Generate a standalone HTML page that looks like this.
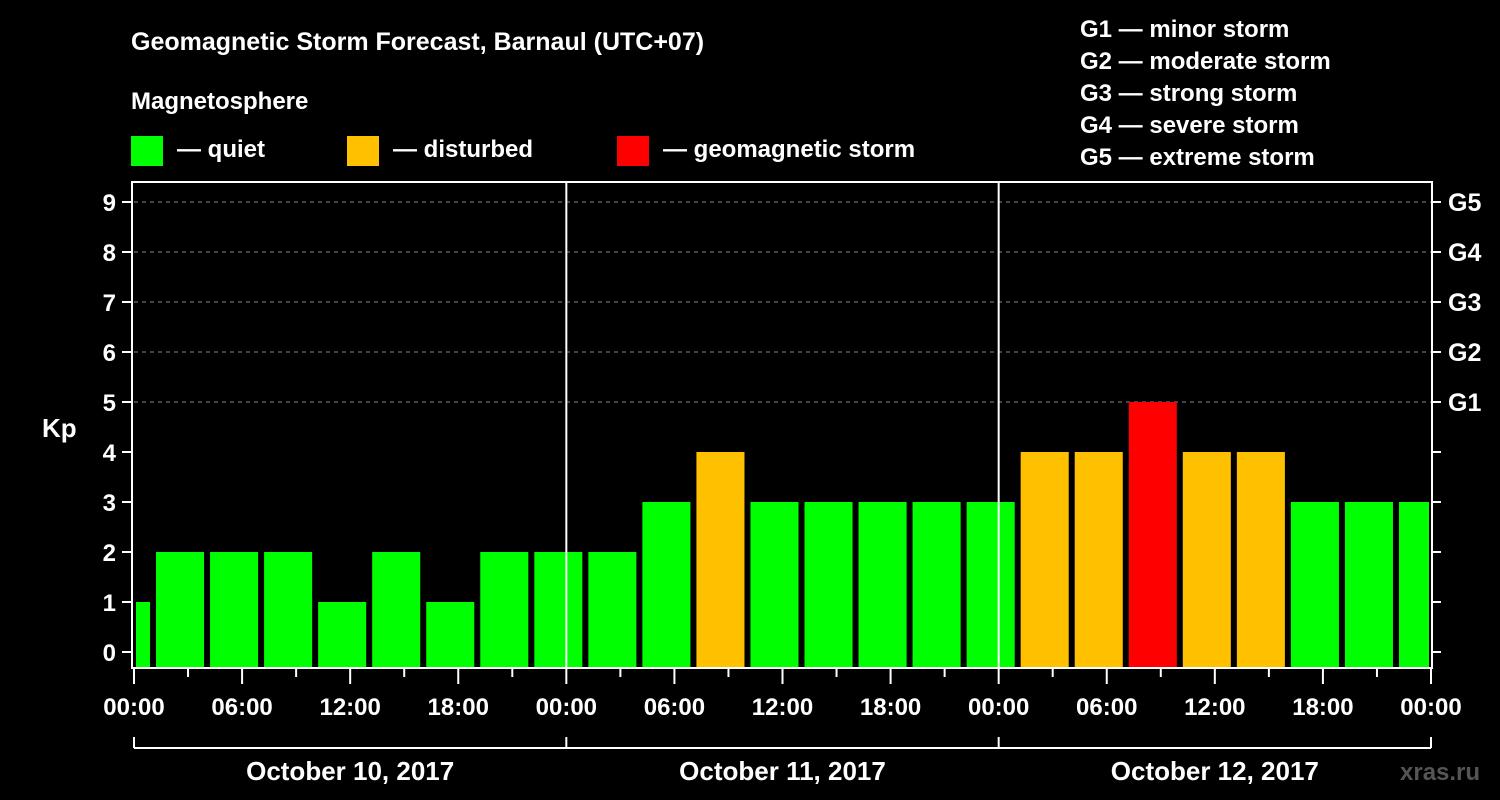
<!DOCTYPE html>
<html><head><meta charset="utf-8"><style>
html,body{margin:0;padding:0;background:#000;}
svg{display:block;font-family:"Liberation Sans",Arial,sans-serif;font-weight:bold;}
</style></head><body>
<svg id="chart" width="1500" height="800" viewBox="0 0 1500 800">
<rect width="1500" height="800" fill="#000"/>
<text x="131" y="50" fill="#fff" font-size="25">Geomagnetic Storm Forecast, Barnaul (UTC+07)</text>
<text x="131" y="109" fill="#fff" font-size="24">Magnetosphere</text>
<g><rect x="131" y="136" width="32" height="30" fill="#00ff00"/><text x="177" y="157" fill="#fff" font-size="24">— quiet</text></g>
<g><rect x="347" y="136" width="32" height="30" fill="#ffc000"/><text x="393" y="157" fill="#fff" font-size="24">— disturbed</text></g>
<g><rect x="617" y="136" width="32" height="30" fill="#ff0000"/><text x="663" y="157" fill="#fff" font-size="24">— geomagnetic storm</text></g>
<g fill="#fff" font-size="24">
<text x="1080" y="37">G1 — minor storm</text>
<text x="1080" y="69">G2 — moderate storm</text>
<text x="1080" y="101">G3 — strong storm</text>
<text x="1080" y="133">G4 — severe storm</text>
<text x="1080" y="165">G5 — extreme storm</text>
</g>
<text x="42" y="437" fill="#fff" font-size="26">Kp</text>
<text x="1400" y="780" fill="#555" font-size="24">xras.ru</text>
<g id="plot"></g>
</svg>
<script>
const kpValues = [1,2,2,2,1,2,1,2,2,2,3,4,3,3,3,3,3,4,4,5,4,4,3,3,3];
const startHour = -2; // first bin starts 22:00 of previous day
const binHours = 3;
const yTicks = [0,1,2,3,4,5,6,7,8,9];
const gLabels = ["G1","G2","G3","G4","G5"];
const timeLabels = ["00:00","06:00","12:00","18:00","00:00","06:00","12:00","18:00","00:00","06:00","12:00","18:00","00:00"];
const dayLabels = ["October 10, 2017","October 11, 2017","October 12, 2017"];

const X0=134, X1=1431, TOP=182, BOT=668;
const totalHours=72;
const xs=h=>X0+(h/totalHours)*(X1-X0);
const ys=v=>652-v*50;
const NS="http://www.w3.org/2000/svg";
const g=document.getElementById('plot');
function mk(tag,attrs){const e=document.createElementNS(NS,tag);for(const k in attrs)e.setAttribute(k,attrs[k]);g.appendChild(e);return e;}

// grid
for(const v of [5,6,7,8,9]){
 const l=mk('line',{x1:X0,x2:X1,y1:ys(v),y2:ys(v),stroke:'#888','stroke-dasharray':'4,4','stroke-width':1});
 
 
}
// bars
kpValues.forEach((v,i)=>{
 let h0=startHour+i*binHours, h1=h0+binHours;
 let a=xs(Math.max(0,h0)), b=xs(Math.min(totalHours,h1));
 a+= (h0<0)?2:4; b-=(h1>totalHours)?2:2;
 const col=v>=5?'#ff0000':(v>=4?'#ffc000':'#00ff00');
 const r=mk('rect',{x:a,y:ys(v),width:b-a,height:BOT-ys(v),fill:col});
 
 
});
// day separators
for(const d of [1,2]){
 const l=mk('line',{x1:xs(d*24),x2:xs(d*24),y1:TOP,y2:BOT,stroke:'#fff','stroke-width':2});
 
 
}
// frame
const fr=mk('rect',{x:X0-2,y:TOP,width:X1-X0+3,height:BOT-TOP,fill:'none',stroke:'#fff','stroke-width':2});


// y ticks
yTicks.forEach(v=>{
 const y=ys(v);
 mk('line',{x1:X0-12,x2:X0-2,y1:y,y2:y,stroke:'#fff','stroke-width':2});
 mk('line',{x1:X1+1,x2:X1+10,y1:y,y2:y,stroke:'#fff','stroke-width':2});
 const t=mk('text',{x:X0-18,y:y+9,fill:'#fff','font-size':24,'text-anchor':'end'});
 t.textContent=v;
 
 
});
gLabels.forEach((s,i)=>{
 const t=mk('text',{x:1448,y:ys(5+i)+9,fill:'#fff','font-size':25});
 t.textContent=s;
 
 
});
// x ticks
for(let h=0;h<=totalHours;h+=3){
 const x=xs(h);
 mk('line',{x1:x,x2:x,y1:BOT,y2:BOT+(h%6===0?16:9),stroke:'#fff','stroke-width':2});
}
timeLabels.forEach((s,i)=>{
 const t=mk('text',{x:xs(i*6),y:715,fill:'#fff','font-size':24,'text-anchor':'middle'});
 t.textContent=s;
 
 
});
// day bracket
mk('line',{x1:X0,x2:X1,y1:748,y2:748,stroke:'#fff','stroke-width':2});
for(let d=0;d<=3;d++) mk('line',{x1:xs(d*24),x2:xs(d*24),y1:737,y2:748,stroke:'#fff','stroke-width':2});
dayLabels.forEach((s,i)=>{
 const t=mk('text',{x:xs(i*24+12),y:780,fill:'#fff','font-size':26,'text-anchor':'middle'});
 t.textContent=s;
 
 
});
</script>
</body></html>
